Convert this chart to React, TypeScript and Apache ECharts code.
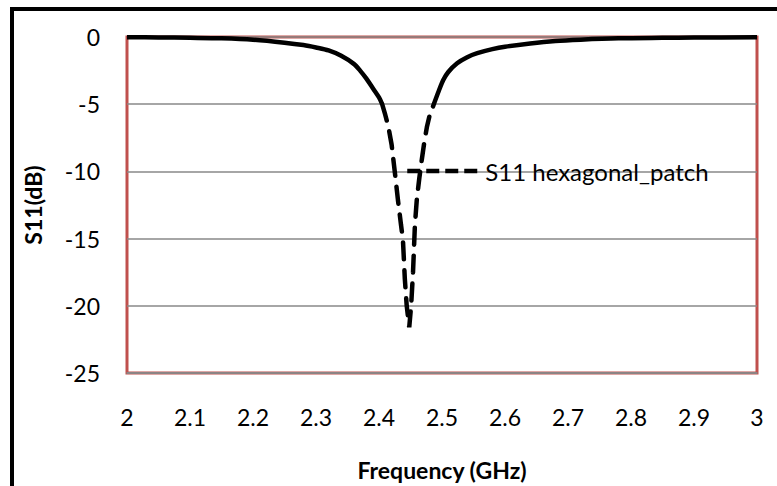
import React, { useEffect, useRef } from "react";
import * as echarts from "echarts";

// Frequency sweep (GHz) and return loss S11 (dB)
const freqGHz = [
  2.0, 2.05, 2.1, 2.15, 2.2, 2.25, 2.28, 2.3, 2.32, 2.34, 2.36, 2.37, 2.38, 2.39, 2.4,
  2.405, 2.41, 2.415, 2.42, 2.425, 2.43, 2.435, 2.438, 2.441, 2.444, 2.448, 2.451,
  2.454, 2.457, 2.46, 2.464, 2.468, 2.472, 2.476, 2.48, 2.487, 2.495, 2.502, 2.51,
  2.524, 2.54, 2.556, 2.58, 2.6, 2.64, 2.68, 2.72, 2.78, 2.85, 2.9, 3.0,
];
const s11dB = [
  -0.02, -0.03, -0.06, -0.1, -0.2, -0.42, -0.6, -0.78, -1.0, -1.4, -2.0, -2.5, -3.1, -3.8, -4.5,
  -5.0, -5.8, -6.7, -8.0, -10.0, -12.1, -14.0, -15.1, -18.0, -20.0, -21.6, -20.0,
  -17.5, -14.0, -12.1, -10.5, -9.1, -7.8, -6.7, -5.9, -5.0, -4.0, -3.2, -2.6,
  -1.95, -1.5, -1.2, -0.9, -0.72, -0.48, -0.3, -0.2, -0.1, -0.06, -0.04, -0.02,
];
const seriesName = "S11 hexagonal_patch";
const xTicks = [2, 2.1, 2.2, 2.3, 2.4, 2.5, 2.6, 2.7, 2.8, 2.9, 3];

const FONT = "Lato";

export default function App() {
  const ref = useRef<HTMLDivElement>(null);

  useEffect(() => {
    if (!ref.current) return;
    const chart = echarts.init(ref.current, undefined, { renderer: "svg" });

    const pts = freqGHz.map((f, i) => [f, s11dB[i]]);
    // shallow shoulders are drawn solid, the deep notch dashed
    const leftIdx = s11dB.findIndex((v) => v <= -5);
    let rightIdx = leftIdx;
    for (let i = leftIdx; i < s11dB.length; i++) if (s11dB[i] <= -5) rightIdx = i;
    const leftSolid = pts.slice(0, leftIdx + 1);
    const notch = pts.slice(leftIdx, rightIdx + 1);
    const rightSolid = pts.slice(rightIdx);

    const dashStyle = { color: "#000", width: 4.5, type: [17, 11] as number[], cap: "round" as const };
    const solidStyle = { color: "#000", width: 4.5, type: "solid" as const };
    const common = {
      name: seriesName,
      type: "line",
      showSymbol: false,
      symbol: "none",
      itemStyle: { color: "#000" },
      z: 3,
    };

    chart.setOption({
      animation: false,
      backgroundColor: "#fff",
      textStyle: { fontFamily: FONT },
      grid: {
        left: 127,
        right: 20,
        top: 37,
        bottom: 113,
        show: true,
        borderColor: "#C0504D",
        borderWidth: 3,
        backgroundColor: "transparent",
      },
      legend: {
        left: 400,
        top: 154,
        itemWidth: 73,
        itemHeight: 24,
        data: [seriesName],
        itemStyle: { opacity: 0 },
        lineStyle: { color: "#000", width: 4.5, type: [13, 6], cap: "butt" },
        textStyle: { fontFamily: FONT, fontSize: 24, color: "#000" },
      },
      xAxis: {
        type: "value",
        min: 2,
        max: 3,
        interval: 0.1,
        name: "Frequency (GHz)",
        nameLocation: "middle",
        nameGap: 85,
        nameTextStyle: { fontFamily: FONT, fontSize: 23, fontWeight: "bold", color: "#000" },
        axisLine: { show: true, onZero: false, lineStyle: { color: "#888", width: 1.5 } },
        axisTick: { show: false },
        splitLine: { show: false },
        axisLabel: {
          margin: 32,
          fontFamily: FONT,
          fontSize: 23,
          color: "#000",
          formatter: (v: number) => {
            const t = xTicks.find((x) => Math.abs(x - v) < 1e-6);
            return t === undefined ? "" : String(t);
          },
        },
      },
      yAxis: {
        type: "value",
        min: -25,
        max: 0,
        interval: 5,
        name: "S11(dB)",
        nameLocation: "middle",
        nameGap: 83,
        nameTextStyle: { fontFamily: FONT, fontSize: 23, fontWeight: "bold", color: "#000" },
        axisLine: { show: false },
        axisTick: { show: false },
        splitLine: { show: true, lineStyle: { color: "#888", width: 1.5 } },
        axisLabel: { margin: 27, fontFamily: FONT, fontSize: 23, color: "#000" },
      },
      series: [
        { ...common, data: notch, lineStyle: dashStyle },
        { ...common, data: leftSolid, lineStyle: solidStyle, smooth: 0.3 },
        { ...common, data: rightSolid, lineStyle: solidStyle, smooth: 0.3 },
      ],
      graphic: [
        // outer frame: top and left edges
        {
          type: "line",
          shape: { x1: 12, y1: 9, x2: 777, y2: 9 },
          style: { stroke: "#000", lineWidth: 4 },
          silent: true,
          z: 10,
        },
        {
          type: "line",
          shape: { x1: 12, y1: 7, x2: 12, y2: 486 },
          style: { stroke: "#000", lineWidth: 4 },
          silent: true,
          z: 10,
        },
        {
          type: "rect",
          shape: { x: 767, y: 12, width: 10, height: 474 },
          style: { fill: "#fff" },
          silent: true,
          z: 11,
        },
      ],
    });

    return () => chart.dispose();
  }, []);

  return (
    <div
      ref={ref}
      style={{ position: "fixed", left: 0, top: 0, width: 777, height: 486, background: "#fff" }}
    />
  );
}
